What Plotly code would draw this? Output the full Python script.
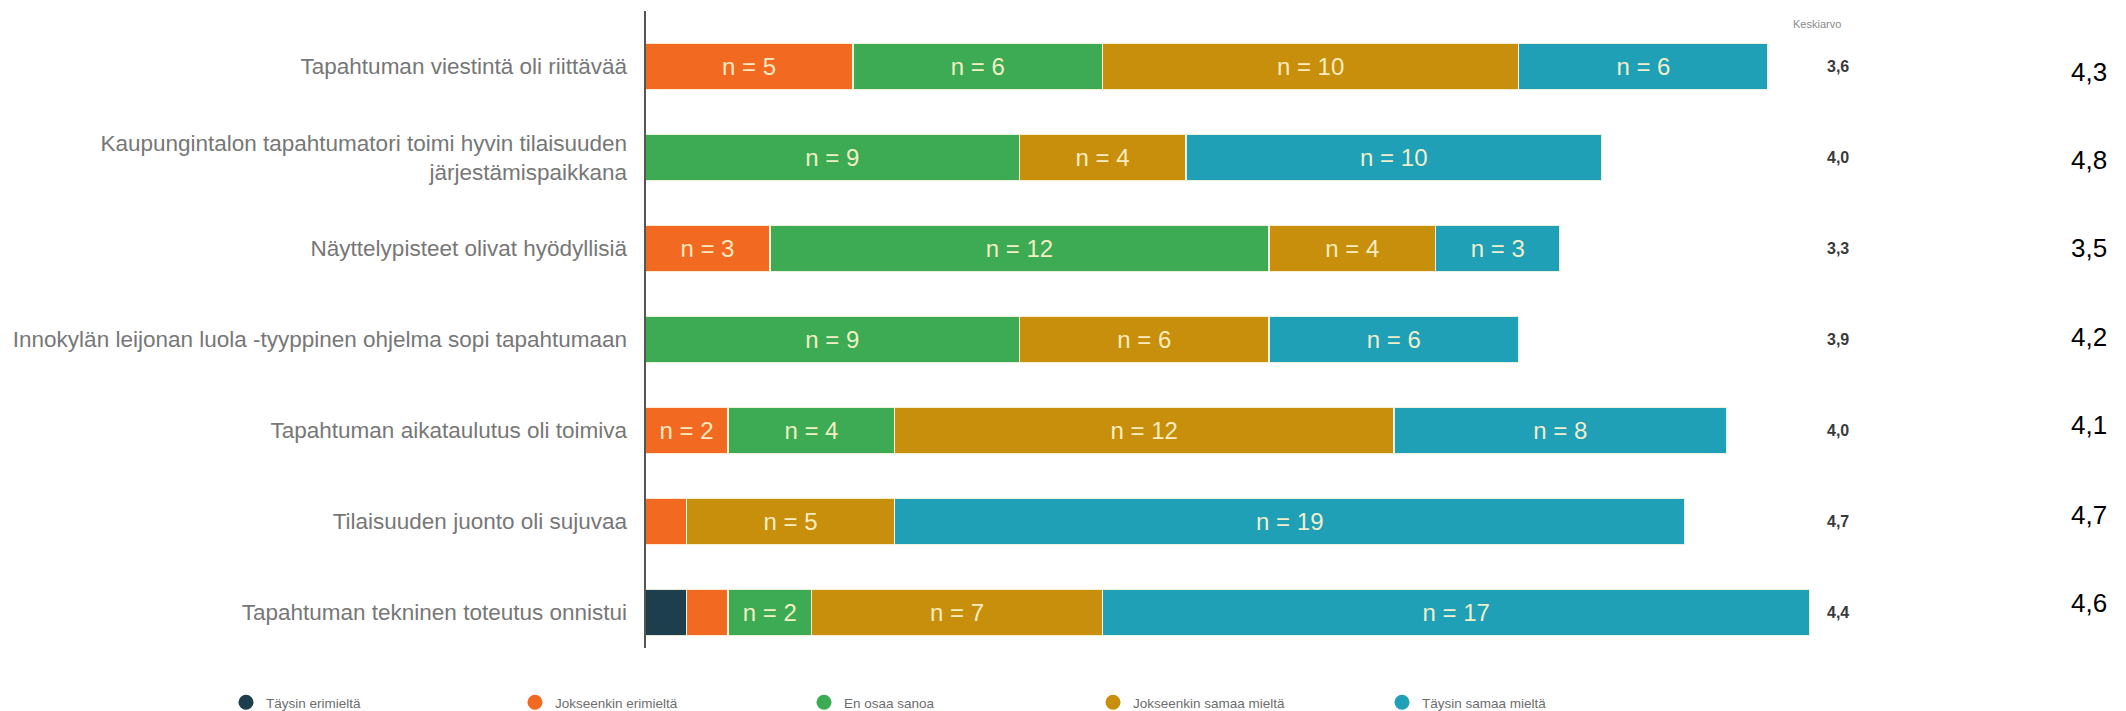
import plotly.graph_objects as go

categories = [
    "Tapahtuman viestintä oli riittävää",
    "Kaupungintalon tapahtumatori toimi hyvin tilaisuuden<br>järjestämispaikkana",
    "Näyttelypisteet olivat hyödyllisiä",
    "Innokylän leijonan luola -tyyppinen ohjelma sopi tapahtumaan",
    "Tapahtuman aikataulutus oli toimiva",
    "Tilaisuuden juonto oli sujuvaa",
    "Tapahtuman tekninen toteutus onnistui",
]
series_names = [
    "Täysin erimieltä",
    "Jokseenkin erimieltä",
    "En osaa sanoa",
    "Jokseenkin samaa mieltä",
    "Täysin samaa mieltä",
]
taysin_eri = [0, 0, 0, 0, 0, 0, 1]
jokseenkin_eri = [5, 0, 3, 0, 2, 1, 1]
en_osaa = [6, 9, 12, 9, 4, 0, 2]
jokseenkin_samaa = [10, 4, 4, 6, 12, 5, 7]
taysin_samaa = [6, 10, 3, 6, 8, 19, 17]
keskiarvo = ["3,6", "4,0", "3,3", "3,9", "4,0", "4,7", "4,4"]
vertailu = ["4,3", "4,8", "3,5", "4,2", "4,1", "4,7", "4,6"]
header_text = "Keskiarvo"

colors = ["#1d3e4d", "#f26a21", "#3cab53", "#c88f0c", "#20a0b6"]
series_values = [taysin_eri, jokseenkin_eri, en_osaa, jokseenkin_samaa, taysin_samaa]

fig = go.Figure()
for name, vals, col in zip(series_names, series_values, colors):
    fig.add_trace(go.Bar(
        y=categories, x=vals, orientation="h", name=name,
        marker=dict(color=col, line=dict(color="rgba(255,250,230,0.9)", width=1.5)),
        text=[f"n = {v}" if v >= 2 else "" for v in vals],
        textposition="inside", insidetextanchor="middle",
        textfont=dict(family="Arial, Liberation Sans, sans-serif", size=24,
                      color="rgba(255,244,205,0.95)"),
        showlegend=False,
    ))
for name, col in zip(series_names, colors):
    fig.add_trace(go.Scatter(
        x=[None], y=[None], mode="markers", name=name,
        marker=dict(color=col, size=15, symbol="circle"),
        showlegend=True,
    ))

# layout constants (pixel geometry; page body adds an 8px offset)
W, H = 2118, 703
ML, MT, MB = 637, 13, 53
plot_w = W - ML
plot_h = H - MT - MB
px_per_unit = 41.6

def px_to_paper_x(px):
    return (px - ML) / plot_w

def px_to_paper_y(py):
    return (H - MB - py) / plot_h

mean_x = 1830
cmp_x = 2081
cmp_ys = [64, 152, 240, 329, 417, 507, 595]

annotations = [dict(
    x=px_to_paper_x(1809), y=px_to_paper_y(16), xref="paper", yref="paper",
    xanchor="center", yanchor="middle",
    text=header_text, showarrow=False,
    font=dict(family="Arial, Liberation Sans, sans-serif", size=11, color="#8a8a8a"),
)]
for cat, v in zip(categories, keskiarvo):
    annotations.append(dict(
        x=px_to_paper_x(mean_x), y=cat, xref="paper", yref="y",
        xanchor="center", yanchor="middle",
        text=f"<b>{v}</b>", showarrow=False,
        font=dict(family="Arial, Liberation Sans, sans-serif", size=16, color="#3a3a3a"),
    ))
for v, py in zip(vertailu, cmp_ys):
    annotations.append(dict(
        x=px_to_paper_x(cmp_x), y=px_to_paper_y(py), xref="paper", yref="paper",
        xanchor="center", yanchor="middle",
        text=v, showarrow=False,
        font=dict(family="Arial, Liberation Sans, sans-serif", size=26, color="#000000"),
    ))

fig.update_layout(
    width=W, height=H,
    barmode="stack", bargap=0.49,
    plot_bgcolor="white", paper_bgcolor="white",
    margin=dict(l=ML, r=0, t=MT, b=MB, autoexpand=False),
    xaxis=dict(range=[0, plot_w / px_per_unit], visible=False, fixedrange=True),
    yaxis=dict(
        categoryorder="array", categoryarray=categories, autorange="reversed",
        showline=False, showgrid=False, zeroline=False, ticks="", ticklabelstandoff=17,
        tickfont=dict(family="Arial, Liberation Sans, sans-serif", size=22.5, color="#777777"),
    ),
    shapes=[dict(
        type="line", xref="paper", yref="paper",
        x0=0, x1=0, y0=px_to_paper_y(640), y1=px_to_paper_y(3),
        line=dict(color="#555555", width=2),
    )],
    legend=dict(
        orientation="h", traceorder="normal", x=px_to_paper_x(218), xanchor="left",
        y=px_to_paper_y(679), yanchor="top",
        font=dict(family="Arial, Liberation Sans, sans-serif", size=13.5, color="#6e6e6e"),
        entrywidth=244, entrywidthmode="pixels",
        itemsizing="trace", bgcolor="rgba(0,0,0,0)",
    ),
    annotations=annotations,
)

fig.write_html("out.html")
